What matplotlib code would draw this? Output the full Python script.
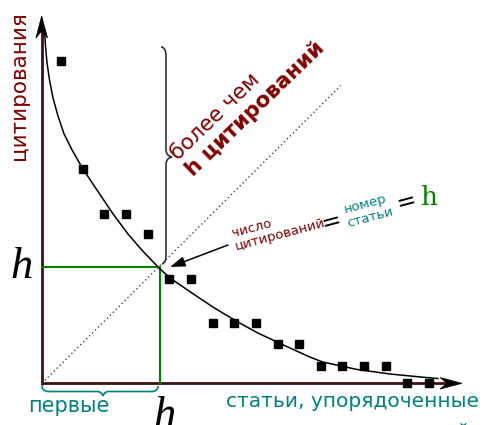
import matplotlib
matplotlib.use("Agg")
import matplotlib.pyplot as plt
from matplotlib.patches import Polygon, PathPatch
from matplotlib.path import Path

# papers ranked by citations
rank = list(range(1, 19))
citations = [14.9, 9.9, 7.8, 7.8, 6.9, 4.8, 4.8, 2.8, 2.8, 2.8,
             1.8, 1.8, 0.8, 0.8, 0.8, 0.8, 0.0, 0.0]

# hand drawn trend curve
curve_x = [0.24, 0.28, 0.35, 0.47, 0.63, 0.86, 1.14, 1.51, 2.00, 2.66,
           3.40, 4.09, 4.73, 5.48, 6.04, 7.05, 8.02, 9.08, 10.10, 11.12,
           12.50, 13.10, 14.67, 16.19, 17.72, 18.41]
curve_y = [16.32, 15.63, 14.84, 14.00, 13.18, 12.35, 11.52, 10.78, 9.92, 8.93,
           7.83, 6.90, 6.16, 5.37, 4.86, 4.17, 3.52, 2.88, 2.32, 1.84,
           1.21, 0.98, 0.64, 0.43, 0.28, 0.22]

h_x = 5.55
h_y = 5.37
origin = (0.12, 0.0)
diag_end = (13.92, 13.75)

# colours
axis_col = "#3d1010"
red = "#800000"
teal = "#008080"
green = "#008000"

# pixel helpers (image is 500x425)
X0, U, Y0 = 39.35, 21.65, 383.3


def P(px, py):
    return ((px - X0) / U, (Y0 - py) / U)


fig = plt.figure(figsize=(5, 4.25), dpi=100)
ax = fig.add_axes([0, 0, 1, 1])
ax.set_xlim(P(0, 0)[0], P(500, 0)[0])
ax.set_ylim(P(0, 425)[1], P(0, 0)[1])
ax.axis("off")

# axes with arrow heads
ax.plot(*zip(P(42, 384.5), P(42, 30)), color=axis_col, lw=2.0, solid_capstyle="butt")
ax.plot(*zip(P(40.5, 383.3), P(448, 383.3)), color=axis_col, lw=2.0, solid_capstyle="butt")


def head(tx, ty, up):
    L, W, N = 22, 5.8, 15
    if up:
        pts = [(tx, ty), (tx + W, ty + L), (tx, ty + N), (tx - W, ty + L)]
    else:
        pts = [(tx, ty), (tx - L, ty - W), (tx - N, ty), (tx - L, ty + W)]
    ax.add_patch(Polygon([P(*p) for p in pts], closed=True, fc="black",
                         ec="black", lw=0.5, zorder=5))


head(41.7, 16, True)
head(462, 383.3, False)

# diagonal y = x
ax.plot([origin[0], diag_end[0]], [origin[1], diag_end[1]], color="#444444",
        lw=1.0, linestyle=(0, (1, 2)))

# h square
ax.plot([origin[0], h_x, h_x], [h_y, h_y, origin[1]], color=green, lw=1.5)

# curve and data points
ax.plot(curve_x, curve_y, color="black", lw=1.1)
ax.plot(rank, citations, "s", color="black", ms=6, zorder=6)

# braces
top_brace = [(161, 47), (164, 47), (166, 50), (166, 56), (166, 149),
             (166, 154), (168, 156), (172, 157), (168, 158), (166, 160), (166, 165),
             (166, 256), (166, 260), (165, 263), (162, 264)]
codes = [Path.MOVETO] + [Path.CURVE4] * 3 + [Path.LINETO] + [Path.CURVE4] * 6 \
    + [Path.LINETO] + [Path.CURVE4] * 3
ax.add_patch(PathPatch(Path([P(*p) for p in top_brace], codes), fc="none",
                       ec="#333333", lw=1.2))
bot_brace = [(42, 386), (42, 389), (44, 391.5), (49, 391.5), (97, 391.5),
             (100, 391.5), (102, 393), (103, 396), (104, 393), (106, 391.5), (109, 391.5),
             (152, 391.5), (156, 391.5), (158, 389), (158, 386)]
ax.add_patch(PathPatch(Path([P(*p) for p in bot_brace], codes), fc="none",
                       ec=teal, lw=1.2))

# pointer arrow
ax.annotate("", xy=P(170, 267), xytext=P(228, 245),
            arrowprops=dict(arrowstyle="-|>,head_length=0.9,head_width=0.3",
                            color="black", lw=1.1, shrinkA=0, shrinkB=0))

# texts
sans = "DejaVu Sans"
kw = dict(rotation_mode="anchor", ha="left", va="baseline", family=sans)
ax.text(*P(25, 160), "цитирования", rotation=90, color=red, fontsize=15.5, **kw)
ax.text(*P(178, 161), "более чем", rotation=44, color=red, fontsize=15.5, **kw)
ax.text(*P(193, 177), "h цитирований", rotation=44, color=red, fontsize=15.5,
        fontweight="bold", **kw)
ax.text(*P(233, 237), "число", rotation=15, color=red, fontsize=9.5, **kw)
ax.text(*P(236, 250), "цитирований", rotation=15, color=red, fontsize=9.5, **kw)
ax.text(*P(331, 222), "=", rotation=15, color="black", fontsize=17,
        rotation_mode="anchor", ha="center", va="center", family=sans)
ax.text(*P(345, 213), "номер", rotation=15, color=teal, fontsize=9.5, **kw)
ax.text(*P(348, 227), "статьи", rotation=15, color=teal, fontsize=9.5, **kw)
ax.text(*P(406, 202), "=", rotation=15, color="black", fontsize=17,
        rotation_mode="anchor", ha="center", va="center", family=sans)
ax.text(*P(421, 205), "h", color=green, fontsize=19, family="DejaVu Serif",
        ha="left", va="baseline")

ax.text(*P(69, 412), "первые", color=teal, fontsize=15, ha="center",
        va="baseline", family=sans)
ax.text(*P(352, 407), "статьи, упорядоченные", color=teal, fontsize=14.5,
        ha="center", va="baseline", family=sans)
ax.text(*P(350, 438), "по числу цитирований", color=teal, fontsize=14.5,
        ha="center", va="baseline", family=sans)

ax.text(*P(22, 278), "h", color="black", fontsize=32, family="Liberation Serif",
        style="italic", ha="center", va="baseline")
ax.text(*P(165, 427), "h", color="black", fontsize=32, family="Liberation Serif",
        style="italic", ha="center", va="baseline")

fig.savefig("out.png", dpi=100)
